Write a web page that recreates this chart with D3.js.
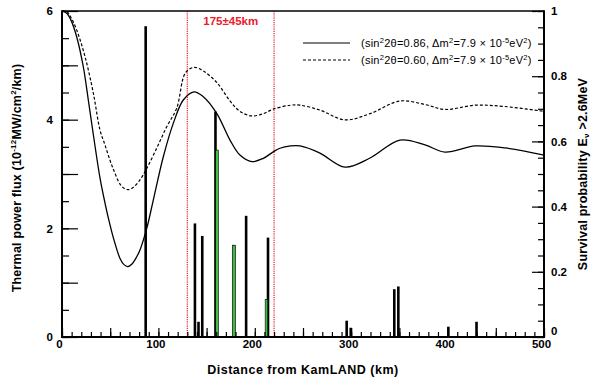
<!DOCTYPE html>
<html>
<head>
<meta charset="utf-8">
<script src="https://cdn.jsdelivr.net/npm/d3@7"></script>
<style>
  html, body { margin: 0; padding: 0; background: #fff; }
  svg { display: block; font-family: "Liberation Sans", Arial, sans-serif; }
</style>
</head>
<body>
<svg id="chart" width="594" height="383"></svg>
<script>
// Survival probability vs distance (km), sin^2 2θ = 0.86
const solidKm = [0, 4.9, 9.3, 15.2, 22.1, 27.3, 31.8, 39.4, 44.6, 49.8, 53.9, 60.2, 64.3, 68.2, 72.6, 77.5, 80.9, 87.9, 94.7, 105.1, 115.5, 125.8, 136.9, 146.6, 160.5, 174.3, 184.6, 196.8, 208.8, 219.2, 226.1, 237, 247, 267.6, 293.6, 319.5, 350.6, 376.6, 397.3, 428.4, 459.5, 500];
const solidP  = [1.000, 0.993, 0.972, 0.921, 0.829, 0.727, 0.635, 0.488, 0.411, 0.344, 0.298, 0.241, 0.222, 0.216, 0.224, 0.246, 0.267, 0.333, 0.420, 0.553, 0.656, 0.727, 0.752, 0.737, 0.686, 0.604, 0.558, 0.538, 0.548, 0.568, 0.579, 0.586, 0.586, 0.564, 0.521, 0.549, 0.604, 0.589, 0.567, 0.586, 0.580, 0.558];

// Survival probability vs distance (km), sin^2 2θ = 0.60
const dashKm = [0, 4.9, 9.3, 15.2, 23.9, 32.5, 39.4, 44.6, 49.8, 53.9, 60.2, 64.3, 68.2, 72.6, 80.9, 87.9, 98.2, 108.6, 119, 128, 136.9, 146.6, 160.5, 174.3, 184.6, 196.8, 208.8, 219.2, 237, 247, 267.6, 293.6, 319.5, 350.6, 376.6, 397.3, 428.4, 459.5, 500];
const dashP  = [1.000, 0.998, 0.980, 0.942, 0.860, 0.748, 0.635, 0.589, 0.542, 0.510, 0.469, 0.456, 0.452, 0.456, 0.482, 0.517, 0.579, 0.645, 0.702, 0.810, 0.827, 0.816, 0.781, 0.724, 0.692, 0.678, 0.685, 0.699, 0.711, 0.711, 0.696, 0.666, 0.685, 0.724, 0.713, 0.698, 0.711, 0.707, 0.692];

// Reactor thermal power flux (10^-12 MW/cm^2/km) by distance
const blackKm  = [86.8, 137.9, 141.6, 145.5, 159.2, 178.4, 191.0, 213.7, 295.3, 299.5, 344.7, 348.9, 400.8, 430.0];
const blackVal = [5.72, 2.09, 0.28, 1.86, 4.15, 1.69, 2.23, 1.83, 0.30, 0.17, 0.88, 0.93, 0.19, 0.28];
const greenKm  = [160.8, 178.4, 212.1];
const greenVal = [3.44, 1.69, 0.69];

// Distance window
const windowKm = [130, 220];
const windowLabel = "175±45km";

const xTickLabels = [0, 100, 200, 300, 400, 500];
const leftTickLabels = [0, 2, 4, 6];
const rightTickLabels = [0, 0.2, 0.4, 0.6, 0.8, 1];

const legendItems = [
  { dash: null,  s: "0.86" },
  { dash: "3,2", s: "0.60" }
];

const svg = d3.select("#chart");
const L = 62, R = 544, T = 11, B = 337;

const x = d3.scaleLinear().domain([0, 500]).range([L, R]);
const yL = d3.scaleLinear().domain([0, 6]).range([B, T]);
const yR = d3.scaleLinear().domain([0, 1]).range([B, T]);

// Bars
const bw = 2.6;
svg.append("g").selectAll("rect").data(blackKm).join("rect")
  .attr("x", (d) => x(d) - bw / 2)
  .attr("y", (d, i) => yL(blackVal[i]))
  .attr("width", bw)
  .attr("height", (d, i) => B - yL(blackVal[i]))
  .attr("fill", "#000");
svg.append("g").selectAll("rect").data(greenKm).join("rect")
  .attr("x", (d) => x(d) - bw / 2)
  .attr("y", (d, i) => yL(greenVal[i]))
  .attr("width", bw)
  .attr("height", (d, i) => B - yL(greenVal[i]))
  .attr("fill", "#3fbf3f")
  .attr("stroke", "#000")
  .attr("stroke-width", 0.6);

// Window lines
svg.append("g").selectAll("line").data(windowKm).join("line")
  .attr("x1", (d) => x(d)).attr("x2", (d) => x(d))
  .attr("y1", T).attr("y2", B)
  .attr("stroke", "#e8202a").attr("stroke-width", 1.2)
  .attr("stroke-dasharray", "1.2,1");
svg.append("text")
  .attr("x", x(d3.mean(windowKm))).attr("y", 25)
  .attr("text-anchor", "middle")
  .attr("fill", "#e8202a").attr("font-weight", "bold").attr("font-size", 11.5)
  .text(windowLabel);

// Curves
const line = d3.line().curve(d3.curveCatmullRom.alpha(0.5));
svg.append("path")
  .attr("d", line(solidKm.map((k, i) => [x(k), yR(solidP[i])])))
  .attr("fill", "none").attr("stroke", "#000").attr("stroke-width", 1.3);
svg.append("path")
  .attr("d", line(dashKm.map((k, i) => [x(k), yR(dashP[i])])))
  .attr("fill", "none").attr("stroke", "#000").attr("stroke-width", 1.2)
  .attr("stroke-dasharray", "3,2");

// Axes
function styleAxis(g) {
  g.select(".domain").remove();
  g.selectAll(".tick line").attr("stroke", "#000").attr("stroke-width", 1.2);
  g.selectAll("text").attr("font-weight", "bold").attr("font-size", 11.5)
    .attr("font-family", "Liberation Sans, Arial, sans-serif").attr("fill", "#000");
}
// bottom
svg.append("g").attr("transform", `translate(0,${B})`)
  .call(d3.axisBottom(x).tickValues(d3.range(0, 501, 10)).tickSize(-5).tickFormat(""))
  .call(styleAxis);
svg.append("g").attr("transform", `translate(0,${B})`)
  .call(d3.axisBottom(x).tickValues(d3.range(0, 501, 50)).tickSize(-9).tickFormat(""))
  .call(styleAxis);
svg.append("g").attr("transform", `translate(0,${B})`)
  .call(d3.axisBottom(x).tickValues(xTickLabels).tickSize(0).tickPadding(3).tickFormat(d3.format("d")))
  .call(styleAxis)
  .selectAll("text").attr("dx", -3);
// left
svg.append("g").attr("transform", `translate(${L},0)`)
  .call(d3.axisLeft(yL).tickValues(d3.range(0, 6.01, 0.5)).tickSize(-7).tickFormat(""))
  .call(styleAxis);
svg.append("g").attr("transform", `translate(${L},0)`)
  .call(d3.axisLeft(yL).tickValues(d3.range(0, 6.01, 1)).tickSize(-16).tickFormat(""))
  .call(styleAxis);
svg.append("g").attr("transform", `translate(${L},0)`)
  .call(d3.axisLeft(yL).tickValues(leftTickLabels).tickSize(0).tickPadding(9).tickFormat(d3.format("d")))
  .call(styleAxis);
// right
svg.append("g").attr("transform", `translate(${R},0)`)
  .call(d3.axisRight(yR).tickValues(d3.range(0, 1.001, 0.05)).tickSize(-6).tickFormat(""))
  .call(styleAxis);
svg.append("g").attr("transform", `translate(${R},0)`)
  .call(d3.axisRight(yR).tickValues(d3.range(0, 1.001, 0.2)).tickSize(-12).tickFormat(""))
  .call(styleAxis);
svg.append("g").attr("transform", `translate(${R},0)`)
  .call(d3.axisRight(yR).tickValues(rightTickLabels).tickSize(0).tickPadding(7)
    .tickFormat((d) => d === 0 || d === 1 ? d3.format("d")(d) : d3.format(".1f")(d)))
  .call(styleAxis)
  .selectAll("text").attr("dy", (d) => d === 0 ? "-0.25em" : "0.32em");

// Frame
svg.append("path")
  .attr("d", `M${L},${T}H${R}`).attr("stroke", "#000").attr("stroke-width", 1.5);
svg.append("path")
  .attr("d", `M${L},${T - 0.7}V${B}H${R}V${T - 0.7}`)
  .attr("fill", "none").attr("stroke", "#000").attr("stroke-width", 2);

// Legend
const leg = svg.append("g");
legendItems.forEach((it, i) => {
  const yy = 43 + i * 17;
  leg.append("line").attr("x1", 303).attr("x2", 350).attr("y1", yy).attr("y2", yy)
    .attr("stroke", "#000").attr("stroke-width", 1.2)
    .attr("stroke-dasharray", it.dash);
  const t = leg.append("text").attr("x", 361).attr("y", yy + 4)
    .attr("font-size", 11).attr("fill", "#000").attr("letter-spacing", 0.25);
  t.append("tspan").text("(sin");
  t.append("tspan").attr("font-size", 7.5).attr("dy", -4).text("2");
  t.append("tspan").attr("dy", 4).text("2θ=" + it.s + ", Δm");
  t.append("tspan").attr("font-size", 7.5).attr("dy", -4).text("2");
  t.append("tspan").attr("dy", 4).text("=7.9 × 10");
  t.append("tspan").attr("font-size", 7.5).attr("dy", -4).text("-5");
  t.append("tspan").attr("dy", 4).text("eV");
  t.append("tspan").attr("font-size", 7.5).attr("dy", -4).text("2");
  t.append("tspan").attr("dy", 4).text(")");
});

// Axis titles
svg.append("text")
  .attr("x", 303).attr("y", 374).attr("text-anchor", "middle")
  .attr("font-weight", "bold").attr("font-size", 12.5).attr("letter-spacing", 0.5)
  .text("Distance from KamLAND (km)");
const lt = svg.append("text")
  .attr("transform", "translate(21,178) rotate(-90)").attr("text-anchor", "middle")
  .attr("font-weight", "bold").attr("font-size", 12.5).attr("letter-spacing", 0.2);
lt.append("tspan").text("Thermal power flux (10");
lt.append("tspan").attr("font-size", 8).attr("dy", -5).text("-12");
lt.append("tspan").attr("dy", 5).text("MW/cm");
lt.append("tspan").attr("font-size", 8).attr("dy", -5).text("2");
lt.append("tspan").attr("dy", 5).text("/km)");
const rt = svg.append("text")
  .attr("transform", "translate(587,174) rotate(-90)").attr("text-anchor", "middle")
  .attr("font-weight", "bold").attr("font-size", 12.5).attr("letter-spacing", 0.2);
rt.append("tspan").text("Survival probability E");
rt.append("tspan").attr("font-size", 8).attr("dy", 2).text("ν");
rt.append("tspan").attr("dy", -2).text("  >2.6MeV");
</script>
</body>
</html>
